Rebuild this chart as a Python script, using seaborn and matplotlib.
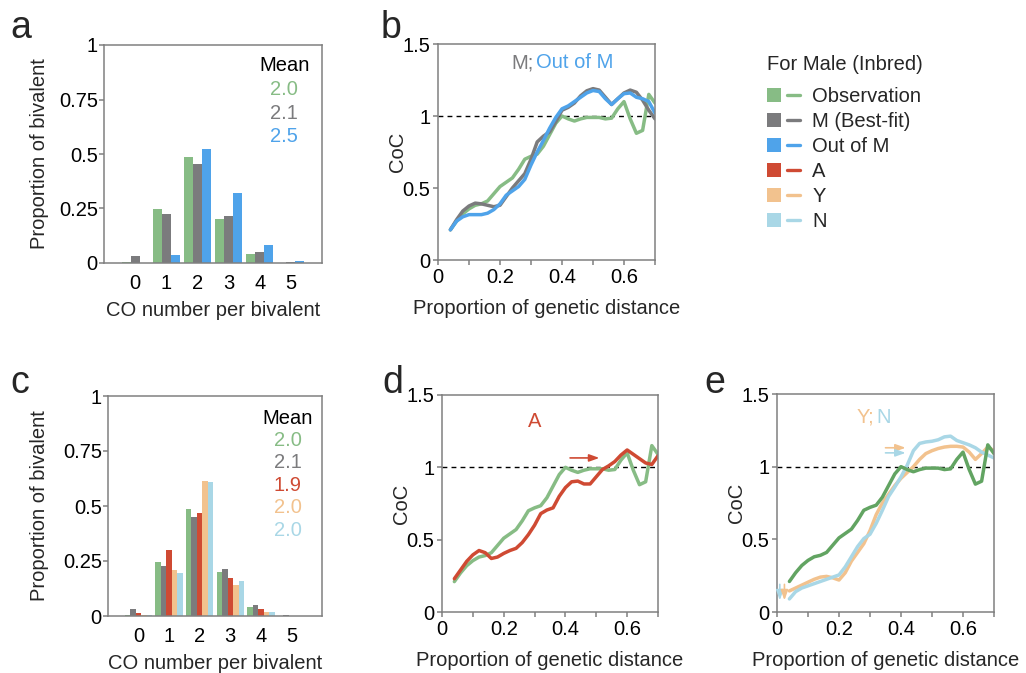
import numpy as np
import pandas as pd
import matplotlib
matplotlib.use("Agg")
import matplotlib.pyplot as plt
import seaborn as sns
from matplotlib.patches import Patch
from matplotlib.lines import Line2D
from matplotlib.legend_handler import HandlerTuple

# ---- data ----
co_num = [0, 1, 2, 3, 4, 5]
obs_bar = [0.003, 0.247, 0.485, 0.200, 0.041, 0.002]
m_bar = [0.034, 0.226, 0.452, 0.215, 0.049, 0.003]
outm_bar = [0.000, 0.038, 0.525, 0.320, 0.081, 0.009]
a_bar = [0.015, 0.300, 0.467, 0.173, 0.032, 0.002]
y_bar = [0.003, 0.209, 0.615, 0.142, 0.017, 0.002]
n_bar = [0.003, 0.197, 0.611, 0.158, 0.017, 0.002]

mean_a = ["2.0", "2.1", "2.5"]
mean_c = ["2.0", "2.1", "1.9", "2.0", "2.0"]

dist = [0.04, 0.06, 0.08, 0.10, 0.12, 0.14, 0.16, 0.18, 0.20, 0.22, 0.24, 0.26,
        0.28, 0.30, 0.32, 0.34, 0.36, 0.38, 0.40, 0.42, 0.44, 0.46, 0.48, 0.50,
        0.52, 0.54, 0.56, 0.58, 0.60, 0.62, 0.64, 0.66, 0.68, 0.70]
obs_coc = [0.21, 0.27, 0.32, 0.355, 0.38, 0.39, 0.41, 0.46, 0.51, 0.54, 0.57, 0.63,
           0.70, 0.72, 0.735, 0.79, 0.87, 0.95, 1.00, 0.98, 0.965, 0.98, 0.99, 0.99,
           0.99, 0.98, 0.985, 1.05, 1.10, 0.98, 0.88, 0.90, 1.15, 1.09]
m_coc = [0.21, 0.28, 0.34, 0.375, 0.395, 0.39, 0.38, 0.37, 0.38, 0.44, 0.50, 0.55,
         0.60, 0.70, 0.82, 0.86, 0.89, 0.96, 1.04, 1.06, 1.09, 1.14, 1.175, 1.19,
         1.18, 1.13, 1.08, 1.12, 1.16, 1.18, 1.165, 1.11, 1.04, 0.98]
outm_coc = [0.21, 0.27, 0.30, 0.315, 0.315, 0.315, 0.325, 0.35, 0.39, 0.45, 0.48, 0.51,
            0.56, 0.66, 0.75, 0.83, 0.915, 0.99, 1.05, 1.07, 1.10, 1.13, 1.16, 1.177,
            1.17, 1.12, 1.08, 1.12, 1.155, 1.16, 1.13, 1.12, 1.10, 1.02]
a_coc = [0.23, 0.29, 0.35, 0.395, 0.425, 0.41, 0.37, 0.38, 0.405, 0.425, 0.44, 0.48,
         0.535, 0.60, 0.68, 0.705, 0.72, 0.80, 0.86, 0.90, 0.905, 0.885, 0.885, 0.935,
         0.985, 1.01, 1.04, 1.085, 1.12, 1.09, 1.06, 1.03, 1.02, 1.08]
y_coc = [0.145, 0.165, 0.185, 0.205, 0.225, 0.24, 0.245, 0.235, 0.22, 0.27, 0.35, 0.41,
         0.47, 0.56, 0.67, 0.75, 0.81, 0.87, 0.92, 0.96, 1.00, 1.05, 1.09, 1.11,
         1.125, 1.135, 1.14, 1.14, 1.135, 1.10, 1.05, 1.09, 1.135, 1.11]
n_coc = [0.09, 0.14, 0.165, 0.18, 0.195, 0.21, 0.225, 0.24, 0.255, 0.31, 0.38, 0.45,
         0.505, 0.535, 0.61, 0.70, 0.795, 0.86, 0.93, 1.01, 1.11, 1.16, 1.17, 1.175,
         1.185, 1.205, 1.21, 1.18, 1.165, 1.15, 1.13, 1.10, 1.08, 1.06]

c_obs = "#87bc85"
c_obs_dark = "#62a462"
c_m = "#7b7b7d"
c_out = "#4fa3ea"
c_a = "#cf4a33"
c_y = "#f2c28e"
c_n = "#a9d7e6"

sns.set_theme(style="ticks")
plt.rcParams["font.family"] = ["Liberation Sans", "DejaVu Sans"]
plt.rcParams["axes.edgecolor"] = "#808080"
plt.rcParams["axes.linewidth"] = 1.1
plt.rcParams["xtick.color"] = "#808080"
plt.rcParams["ytick.color"] = "#808080"
plt.rcParams["xtick.labelcolor"] = "black"
plt.rcParams["ytick.labelcolor"] = "black"

FS = 14.5
W, H = 1026, 673
fig = plt.figure(figsize=(W / 100, H / 100), dpi=100)


def px_axes(l, t, r, b):
    return fig.add_axes([l / W, 1 - b / H, (r - l) / W, (b - t) / H])


def bar_panel(ax, series, names, colors, width, means, mean_x, mean_y, step, ypad):
    df = pd.DataFrame({
        "co": np.tile(co_num, len(series)),
        "prop": np.concatenate(series),
        "grp": np.repeat(names, len(co_num)),
    })
    sns.barplot(data=df, x="co", y="prop", hue="grp", hue_order=names,
                palette=colors, width=width, saturation=1, errorbar=None,
                linewidth=0, legend=False, ax=ax)
    ax.set_xlim(-1, 6)
    ax.set_ylim(0, 1)
    ax.set_yticks([0, 0.25, 0.5, 0.75, 1])
    ax.set_yticklabels(["0", "0.25", "0.5", "0.75", "1"])
    ax.tick_params(axis="x", length=0, pad=8, labelsize=FS)
    ax.tick_params(axis="y", length=3.5, width=1.1, pad=1, labelsize=FS)
    ax.set_xlabel("CO number per bivalent", fontsize=FS, labelpad=6)
    ax.set_ylabel("Proportion of bivalent", fontsize=FS, labelpad=ypad)
    ax.text(mean_x, mean_y, "Mean", transform=ax.transAxes, ha="center",
            va="center", fontsize=FS, color="black")
    for i, (m, c) in enumerate(zip(means, colors)):
        ax.text(mean_x, mean_y - step * (i + 1), m, transform=ax.transAxes,
                ha="center", va="center", fontsize=FS, color=c)


def curve_panel(ax, series, names, colors):
    df = pd.DataFrame({
        "d": np.tile(dist, len(series)),
        "coc": np.concatenate(series),
        "grp": np.repeat(names, len(dist)),
    })
    sns.lineplot(data=df, x="d", y="coc", hue="grp", hue_order=names,
                 palette=colors, linewidth=2.5, legend=False, ax=ax,
                 solid_joinstyle="round", solid_capstyle="round")
    ax.axhline(1, color="black", lw=1, ls=(0, (3.5, 3)), zorder=0.5)
    ax.set_xlim(0, 0.7)
    ax.set_ylim(0, 1.5)
    ax.set_xticks([0, 0.2, 0.4, 0.6])
    ax.set_xticklabels(["0", "0.2", "0.4", "0.6"])
    ax.set_xticks([0.1, 0.3, 0.5, 0.7], minor=True)
    ax.set_yticks([0, 0.5, 1, 1.5])
    ax.set_yticklabels(["0", "0.5", "1", "1.5"])
    ax.tick_params(which="both", length=3.5, width=1.1, pad=2, labelsize=FS)
    ax.set_xlabel("Proportion of genetic distance", fontsize=FS, labelpad=9)
    ax.set_ylabel("CoC", fontsize=FS, labelpad=-3)


def arrow(ax, x0, y0, x1, y1, color):
    ax.annotate("", xy=(x1, y1), xytext=(x0, y0),
                arrowprops=dict(arrowstyle="-|>,head_length=0.5,head_width=0.18",
                                color=color, lw=1.2, shrinkA=0, shrinkB=0))


# panel a
ax_a = px_axes(104, 45, 322, 263)
bar_panel(ax_a, [obs_bar, m_bar, outm_bar], ["Observation", "M (Best-fit)", "Out of M"],
          [c_obs, c_m, c_out], 0.86, mean_a, 0.826, 0.908, 0.11, 7)

# panel b
ax_b = px_axes(438, 44, 655, 260)
curve_panel(ax_b, [obs_coc, m_coc, outm_coc], ["Observation", "M (Best-fit)", "Out of M"],
            [c_obs, c_m, c_out])
ax_b.text(0.307, 1.37, "M;", color=c_m, ha="right", va="center", fontsize=FS)
ax_b.text(0.316, 1.37, "Out of M", color=c_out, ha="left", va="center", fontsize=FS)

# panel c
ax_c = px_axes(108, 396, 322, 616)
bar_panel(ax_c, [obs_bar, m_bar, a_bar, y_bar, n_bar],
          ["Observation", "M (Best-fit)", "A", "Y", "N"],
          [c_obs, c_m, c_a, c_y, c_n], 0.9, mean_c, 0.84, 0.9, 0.102, 10)

# panel d
ax_d = px_axes(442, 395, 658, 612)
curve_panel(ax_d, [obs_coc, a_coc], ["Observation", "A"], [c_obs, c_a])
ax_d.text(0.30, 1.32, "A", color=c_a, ha="center", va="center", fontsize=FS)
arrow(ax_d, 0.415, 1.065, 0.51, 1.065, c_a)

# panel e
ax_e = px_axes(777, 394, 994, 612)
curve_panel(ax_e, [y_coc, n_coc, obs_coc], ["Y", "N", "Observation"], [c_y, c_n, c_obs_dark])
ax_e.text(0.313, 1.34, "Y;", color=c_y, ha="right", va="center", fontsize=FS)
ax_e.text(0.322, 1.34, "N", color=c_n, ha="left", va="center", fontsize=FS)
arrow(ax_e, 0.35, 1.13, 0.415, 1.13, c_y)
arrow(ax_e, 0.35, 1.095, 0.415, 1.095, c_n)
arrow(ax_e, 0.009, 0.19, 0.009, 0.08, c_n)
arrow(ax_e, 0.024, 0.19, 0.024, 0.08, c_y)

# panel letters
for lab, x, y in [("a", 10, 38), ("b", 381, 38), ("c", 10, 393), ("d", 382, 393), ("e", 704, 393)]:
    fig.text(x / W, 1 - y / H, lab, fontsize=27, ha="left", va="baseline")

# legend
fig.text(767 / W, 1 - 65 / H, "For Male (Inbred)", fontsize=FS, ha="left", va="center")
leg_colors = [c_obs, c_m, c_out, c_a, c_y, c_n]
leg_labels = ["Observation", "M (Best-fit)", "Out of M", "A", "Y", "N"]
handles = [(Patch(facecolor=c, edgecolor="none"), Line2D([], [], color=c, lw=2.4))
           for c in leg_colors]
fig.legend(handles, leg_labels, handler_map={tuple: HandlerTuple(ndivide=None, pad=0.3)},
           loc="upper left", bbox_to_anchor=(767 / W, 1 - 87 / H), frameon=False,
           fontsize=FS, handlelength=1.65, handletextpad=0.6, labelspacing=0.3,
           borderaxespad=0, borderpad=0)

fig.savefig("out.png", dpi=100)
